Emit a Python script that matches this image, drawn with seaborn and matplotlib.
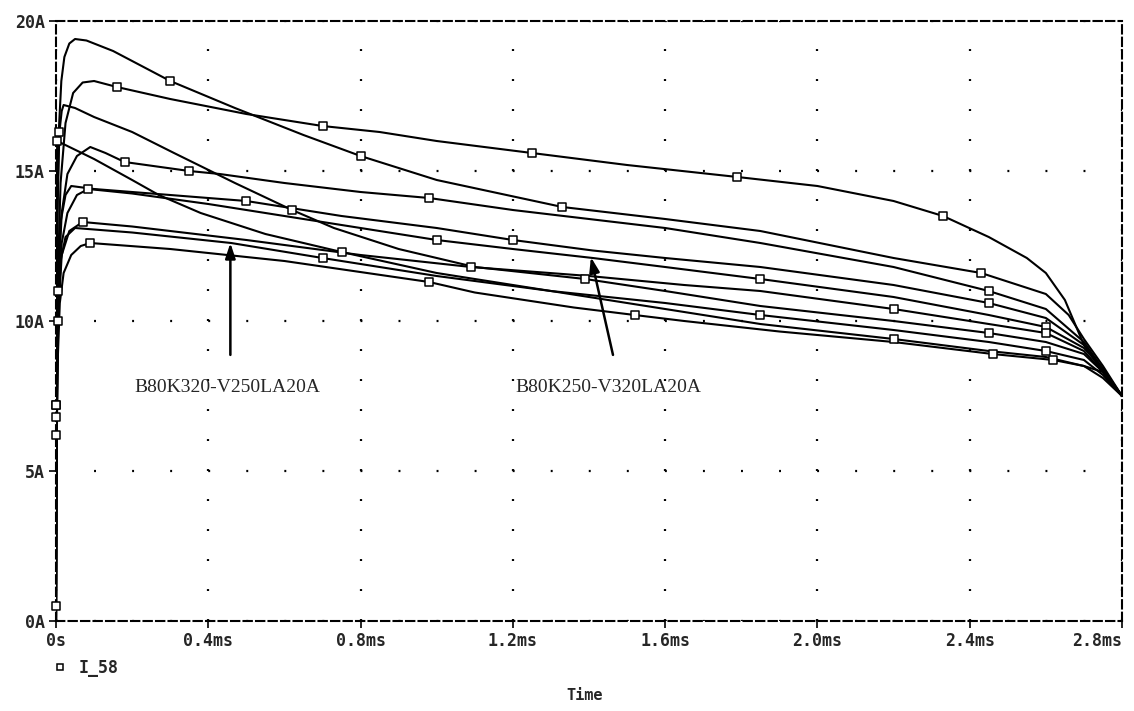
import matplotlib
matplotlib.use("Agg")
import matplotlib.pyplot as plt
from matplotlib.lines import Line2D
import pandas as pd
import seaborn as sns

# --- data (time in ms, current in A) ---
x_ticks = [0, 0.4, 0.8, 1.2, 1.6, 2.0, 2.4, 2.8]
x_labels = ["0s", "0.4ms", "0.8ms", "1.2ms", "1.6ms", "2.0ms", "2.4ms", "2.8ms"]
y_ticks = [0, 5, 10, 15, 20]
y_labels = ["0A", "5A", "10A", "15A", "20A"]

c1_t = [0, 0.001, 0.004, 0.008, 0.014, 0.022, 0.035, 0.05, 0.08, 0.15, 0.3, 0.47, 0.65, 0.8, 1.0,
        1.33, 1.6, 1.85, 2.2, 2.43, 2.6, 2.66, 2.7, 2.75, 2.8]
c1_i = [0, 7.2, 13.5, 16.5, 18.0, 18.8, 19.25, 19.4, 19.35, 19.0, 18.0, 17.1, 16.2, 15.5, 14.7,
        13.8, 13.4, 13.0, 12.1, 11.6, 10.9, 10.2, 9.4, 8.5, 7.5]
c1_marks = [1, 10, 13, 15, 19]

c2_t = [0, 0.001, 0.005, 0.012, 0.025, 0.045, 0.07, 0.1, 0.16, 0.3, 0.5, 0.7, 0.85, 1.0, 1.25,
        1.5, 1.79, 2.0, 2.2, 2.33, 2.45, 2.55, 2.6, 2.65, 2.7, 2.75, 2.8]
c2_i = [0, 6.8, 11.5, 14.6, 16.6, 17.6, 17.95, 18.0, 17.8, 17.4, 16.9, 16.5, 16.3, 16.0, 15.6,
        15.2, 14.8, 14.5, 14.0, 13.5, 12.8, 12.1, 11.6, 10.7, 9.2, 8.3, 7.5]
c2_marks = [1, 8, 11, 14, 16, 19]

c3_t = [0, 0.001, 0.004, 0.009, 0.015, 0.02, 0.05, 0.1, 0.2, 0.31, 0.47, 0.62, 0.73, 0.9, 1.1,
        1.39, 1.6, 1.85, 2.2, 2.45, 2.6, 2.7, 2.75, 2.8]
c3_i = [0, 8.5, 14.0, 16.3, 17.0, 17.2, 17.1, 16.8, 16.3, 15.6, 14.6, 13.7, 13.1, 12.4, 11.8,
        11.4, 11.0, 10.5, 10.0, 9.6, 9.3, 8.9, 8.3, 7.5]
c3_marks = [3, 11, 15, 19]

c4_t = [0, 0.001, 0.003, 0.1, 0.2, 0.27, 0.38, 0.55, 0.75, 1.0, 1.25, 1.5, 1.85, 2.2, 2.45,
        2.6, 2.7, 2.75, 2.8]
c4_i = [0, 9.0, 16.0, 15.4, 14.7, 14.2, 13.6, 12.9, 12.3, 11.6, 11.1, 10.6, 9.9, 9.4, 9.0,
        8.8, 8.5, 8.1, 7.5]
c4_marks = [2, 8, 13]

c5_t = [0, 0.001, 0.006, 0.015, 0.03, 0.055, 0.09, 0.13, 0.18, 0.35, 0.43, 0.6, 0.8, 0.98, 1.2,
        1.4, 1.6, 1.85, 2.2, 2.45, 2.6, 2.7, 2.75, 2.8]
c5_i = [0, 6.2, 11.2, 13.6, 14.9, 15.5, 15.8, 15.6, 15.3, 15.0, 14.9, 14.6, 14.3, 14.1, 13.7,
        13.4, 13.1, 12.6, 11.8, 11.0, 10.4, 9.3, 8.4, 7.5]
c5_marks = [1, 8, 9, 13, 19]

c6_t = [0, 0.001, 0.005, 0.012, 0.025, 0.04, 0.1, 0.3, 0.5, 0.75, 1.0, 1.2, 1.41, 1.6, 1.85,
        2.2, 2.45, 2.6, 2.7, 2.75, 2.8]
c6_i = [0, 6.5, 11.0, 13.3, 14.2, 14.5, 14.4, 14.2, 14.0, 13.5, 13.1, 12.7, 12.35, 12.1, 11.8,
        11.2, 10.6, 10.1, 9.2, 8.4, 7.5]
c6_marks = [2, 8, 11, 16]

c7_t = [0, 0.001, 0.006, 0.015, 0.03, 0.055, 0.085, 0.2, 0.4, 0.7, 1.0, 1.2, 1.41, 1.6, 1.85,
        2.2, 2.45, 2.6, 2.7, 2.75, 2.8]
c7_i = [0, 7.2, 10.4, 12.6, 13.6, 14.2, 14.4, 14.25, 13.9, 13.3, 12.7, 12.4, 12.1, 11.8, 11.4,
        10.8, 10.2, 9.8, 9.1, 8.4, 7.5]
c7_marks = [1, 6, 10, 14, 17]

c8_t = [0, 0.001, 0.006, 0.015, 0.035, 0.07, 0.2, 0.5, 0.8, 1.09, 1.4, 1.65, 1.85, 2.2, 2.45,
        2.6, 2.7, 2.75, 2.8]
c8_i = [0, 5.5, 10.2, 12.2, 13.0, 13.3, 13.15, 12.7, 12.2, 11.8, 11.5, 11.2, 11.0, 10.4, 9.9,
        9.6, 9.0, 8.3, 7.5]
c8_marks = [5, 9, 13, 15]

c9_t = [0, 0.001, 0.005, 0.012, 0.025, 0.05, 0.2, 0.46, 0.7, 1.0, 1.3, 1.6, 1.85, 2.2, 2.45,
        2.6, 2.7, 2.75, 2.8]
c9_i = [0, 5.2, 10.0, 12.0, 12.8, 13.1, 12.95, 12.6, 12.1, 11.5, 11.0, 10.6, 10.2, 9.7, 9.3,
        9.0, 8.7, 8.2, 7.5]
c9_marks = [2, 8, 12, 15]

c10_t = [0, 0, 0.001, 0.004, 0.01, 0.02, 0.04, 0.065, 0.09, 0.3, 0.6, 0.98, 1.1, 1.36, 1.52,
         1.65, 1.9, 2.2, 2.46, 2.62, 2.7, 2.75, 2.8]
c10_i = [0, 0.5, 4.5, 8.5, 10.6, 11.6, 12.2, 12.5, 12.6, 12.4, 12.0, 11.3, 10.95, 10.45, 10.2,
         10.0, 9.65, 9.3, 8.9, 8.7, 8.5, 8.3, 7.5]
c10_marks = [1, 8, 11, 14, 18, 19]

curves = {
    "c1": (c1_t, c1_i, c1_marks), "c2": (c2_t, c2_i, c2_marks), "c3": (c3_t, c3_i, c3_marks),
    "c4": (c4_t, c4_i, c4_marks), "c5": (c5_t, c5_i, c5_marks), "c6": (c6_t, c6_i, c6_marks),
    "c7": (c7_t, c7_i, c7_marks), "c8": (c8_t, c8_i, c8_marks), "c9": (c9_t, c9_i, c9_marks),
    "c10": (c10_t, c10_i, c10_marks),
}

rows = []
for name, (ts, cs, marks) in curves.items():
    for k, (t, c) in enumerate(zip(ts, cs)):
        rows.append({"curve": name, "t": t, "I": c, "mark": k in marks})
df = pd.DataFrame(rows)

# --- figure ---
sns.set_style("white")
plt.rcParams["lines.scale_dashes"] = False
plt.rcParams["font.family"] = ["DejaVu Sans Mono", "DejaVu Sans"]
plt.rcParams["font.weight"] = "bold"

fig = plt.figure(figsize=(11.34, 7.11), dpi=100)
ax = fig.add_axes([56 / 1134, 1 - 621 / 711, 1066 / 1134, 600 / 711])

sns.lineplot(data=df, x="t", y="I", units="curve", estimator=None, sort=False,
             color="black", linewidth=1.5, legend=False, ax=ax)
sns.scatterplot(data=df[df["mark"]], x="t", y="I", marker="s", s=26, color="white",
                edgecolor="black", linewidth=1.1, legend=False, ax=ax, zorder=3, clip_on=False)

ax.set_xlim(0, 2.8)
ax.set_ylim(0, 20)
ax.set_xticks(x_ticks)
ax.set_xticklabels(x_labels)
ax.set_yticks(y_ticks)
ax.set_yticklabels(y_labels)
ax.get_xticklabels()[-1].set_ha("right")
ax.set_xlabel("")
ax.set_ylabel("")
ax.tick_params(axis="both", direction="out", length=5, width=1.2, color="black",
               labelsize=12, pad=3, bottom=True, left=True)

# dotted PSpice grid: a dot every 1A on the time lines, every 0.1ms on the current lines
ax.xaxis.grid(True, color="black", linewidth=1.6, linestyle=(0, (1.4, 20.2)))
ax.yaxis.grid(True, color="black", linewidth=1.6, linestyle=(0, (1.4, 26.0)))

for sp in ax.spines.values():
    sp.set_visible(True)
    sp.set_linestyle((0, (6, 3)))
    sp.set_linewidth(1.5)
    sp.set_color("black")

arrow = dict(arrowstyle="-|>,head_length=0.9,head_width=0.3", color="black", lw=1.8,
             shrinkA=0, shrinkB=0)
ax.annotate("", xy=(0.458, 12.6), xytext=(0.458, 8.87), arrowprops=arrow)
ax.annotate("", xy=(1.405, 12.13), xytext=(1.463, 8.87), arrowprops=arrow)
ax.text(0.45, 7.8, "B80K320-V250LA20A", ha="center", va="center",
        fontfamily="Liberation Serif", fontweight="normal", fontsize=14)
ax.text(1.45, 7.8, "B80K250-V320LA20A", ha="center", va="center",
        fontfamily="Liberation Serif", fontweight="normal", fontsize=14)

handle = Line2D([], [], ls="none", marker="s", ms=5, mfc="white", mec="black", mew=1.1)
fig.legend(handles=[handle], labels=["I_58"], loc="center left",
           bbox_to_anchor=(55 / 1134, 1 - 668 / 711), frameon=False, handlelength=0.6,
           handletextpad=0.8, borderpad=0, borderaxespad=0,
           prop={"family": "DejaVu Sans Mono", "weight": "bold", "size": 12})
fig.text(585 / 1134, 1 - 695 / 711, "Time", ha="center", va="center", fontsize=11,
         fontweight="bold")

fig.savefig("out.png", dpi=100)
